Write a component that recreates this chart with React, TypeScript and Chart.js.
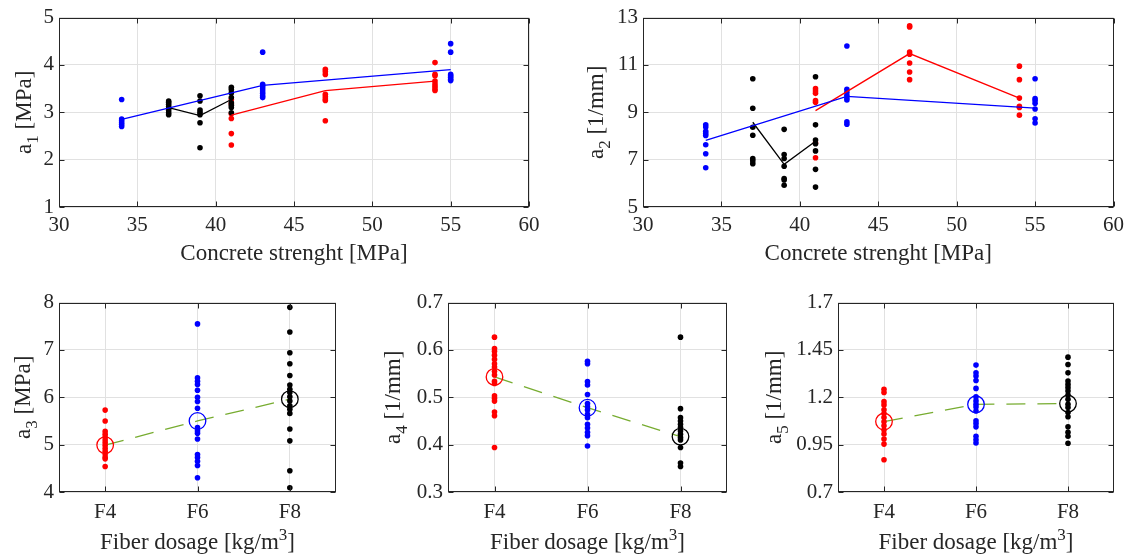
import React, { useEffect, useRef } from 'react';
import { Chart, registerables } from 'chart.js';

Chart.register(...registerables);

const FONT = '"Liberation Serif", "Times New Roman", serif';
const TICK_SIZE = 21;
const TITLE_SIZE = 23;
const AXIS_COLOR = '#262626';
const GRID_COLOR = '#e1e1e1';
const RED = '#ff0000';
const BLUE = '#0000ff';
const BLACK = '#000000';
const GREEN = '#77ac30';

// ---------- Top panels: concrete strength ----------
const strengthTicks = [30, 35, 40, 45, 50, 55, 60];
const strengthTickLabels = ['30', '35', '40', '45', '50', '55', '60'];

// a1 [MPa]
const a1Ticks = [1, 2, 3, 4, 5];
const a1TickLabels = ['1', '2', '3', '4', '5'];
const a1BlueX = [34, 43, 55];
const a1BluePts = [
  [3.27, 2.86, 2.82, 2.78, 2.74, 2.7],
  [4.27, 3.59, 3.55, 3.5, 3.45, 3.4, 3.35, 3.31],
  [4.45, 4.27, 3.8, 3.77, 3.74, 3.7, 3.67],
];
const a1BlueLine = [2.85, 3.57, 3.9];
const a1BlackX = [37, 39, 41];
const a1BlackPts = [
  [3.24, 3.21, 3.17, 3.12, 3.08, 3.04, 2.99, 2.95],
  [3.35, 3.24, 3.05, 3.0, 2.95, 2.78, 2.25],
  [3.53, 3.48, 3.41, 3.31, 3.2, 3.15, 3.1, 2.99],
];
const a1BlackLine = [3.1, 2.93, 3.27];
const a1RedX = [41, 47, 54];
const a1RedPts = [
  [3.27, 3.18, 2.97, 2.87, 2.55, 2.31],
  [3.91, 3.86, 3.8, 3.38, 3.33, 3.28, 3.25, 2.82],
  [4.05, 3.8, 3.77, 3.66, 3.6, 3.55, 3.5, 3.46],
];
const a1RedLine = [2.94, 3.46, 3.66];

// a2 [1/mm]
const a2Ticks = [5, 7, 9, 11, 13];
const a2TickLabels = ['5', '7', '9', '11', '13'];
const a2BlueX = [34, 43, 55];
const a2BluePts = [
  [8.47, 8.38, 8.2, 8.1, 8.02, 7.63, 7.25, 6.66],
  [11.8, 9.97, 9.85, 9.72, 9.6, 9.52, 8.6, 8.5],
  [10.42, 9.58, 9.5, 9.38, 9.14, 8.73, 8.55],
];
const a2BlueLine = [7.81, 9.67, 9.18];
const a2BlackX = [37, 39, 41];
const a2BlackPts = [
  [10.42, 9.17, 8.37, 8.03, 7.05, 6.95, 6.83],
  [8.28, 7.22, 7.05, 6.72, 6.2, 6.14, 5.92],
  [10.5, 8.47, 7.83, 7.67, 7.37, 6.59, 5.84],
];
const a2BlackLine = [8.58, 6.8, 7.78];
const a2RedX = [41, 47, 54];
const a2RedPts = [
  [10.0, 9.9, 9.8, 9.5, 9.42, 7.7, 7.08],
  [12.65, 12.6, 11.55, 11.45, 11.08, 10.7, 10.38],
  [10.95, 10.38, 9.6, 9.25, 9.2, 8.88],
];
const a2RedLine = [9.07, 11.48, 9.6];

// ---------- Bottom panels: fiber dosage ----------
const dosageTicks = [1, 2, 3];
const dosageLabels = ['F4', 'F6', 'F8'];

// a3 [MPa]
const a3Ticks = [4, 5, 6, 7, 8];
const a3TickLabels = ['4', '5', '6', '7', '8'];
const a3F4 = [5.73, 5.5, 5.28, 5.22, 5.16, 5.1, 5.04, 4.98, 4.92, 4.86, 4.8, 4.74, 4.7, 4.54];
const a3F6 = [7.55, 6.41, 6.34, 6.27, 6.15, 6.0, 5.91, 5.77, 5.36, 5.29, 5.24, 5.12, 4.79, 4.73, 4.65, 4.56, 4.3];
const a3F8 = [7.9, 7.38, 6.94, 6.71, 6.46, 6.26, 6.17, 6.1, 6.01, 5.92, 5.82, 5.75, 5.66, 5.33, 5.08, 4.45, 4.09];
const a3Means = [4.99, 5.5, 5.96];

// a4 [1/mm]
const a4Ticks = [0.3, 0.4, 0.5, 0.6, 0.7];
const a4TickLabels = ['0.3', '0.4', '0.5', '0.6', '0.7'];
const a4F4 = [0.627, 0.603, 0.597, 0.589, 0.58, 0.571, 0.564, 0.555, 0.547, 0.534, 0.529, 0.503, 0.498, 0.492, 0.469, 0.461, 0.394];
const a4F6 = [0.576, 0.571, 0.533, 0.526, 0.506, 0.487, 0.48, 0.473, 0.464, 0.457, 0.443, 0.435, 0.426, 0.419, 0.397];
const a4F8 = [0.627, 0.476, 0.457, 0.45, 0.443, 0.436, 0.429, 0.422, 0.415, 0.41, 0.394, 0.361, 0.354];
const a4Means = [0.543, 0.478, 0.417];

// a5 [1/mm]
const a5Ticks = [0.7, 0.95, 1.2, 1.45, 1.7];
const a5TickLabels = ['0.7', '0.95', '1.2', '1.45', '1.7'];
const a5F4 = [1.242, 1.225, 1.177, 1.16, 1.134, 1.114, 1.093, 1.071, 1.05, 1.027, 1.006, 0.98, 0.953, 0.87];
const a5F6 = [1.37, 1.329, 1.312, 1.289, 1.247, 1.202, 1.181, 1.163, 1.149, 1.128, 1.076, 1.062, 1.044, 0.994, 0.976, 0.959];
const a5F8 = [1.412, 1.373, 1.329, 1.286, 1.268, 1.251, 1.233, 1.212, 1.19, 1.163, 1.146, 1.12, 1.097, 1.044, 1.015, 0.994, 0.957];
const a5Means = [1.072, 1.163, 1.167];

// ---------- helpers ----------
type Part = { t: string; s?: 'sub' | 'sup' };

function drawRich(ctx: CanvasRenderingContext2D, parts: Part[], x: number, y: number, vertical: boolean) {
  ctx.save();
  ctx.translate(x, y);
  if (vertical) ctx.rotate(-Math.PI / 2);
  const small = Math.round(TITLE_SIZE * 0.74);
  const fontFor = (p: Part) => `${p.s ? small : TITLE_SIZE}px ${FONT}`;
  const widths = parts.map((p) => {
    ctx.font = fontFor(p);
    return ctx.measureText(p.t).width;
  });
  const total = widths.reduce((a, b) => a + b, 0);
  let cx = -total / 2;
  ctx.fillStyle = AXIS_COLOR;
  ctx.textBaseline = 'alphabetic';
  ctx.textAlign = 'left';
  parts.forEach((p, i) => {
    ctx.font = fontFor(p);
    const dy = p.s === 'sub' ? 7 : p.s === 'sup' ? -9 : 0;
    ctx.fillText(p.t, cx, dy);
    cx += widths[i];
  });
  ctx.restore();
}

const framePlugin = {
  id: 'frame',
  afterDraw(chart: any, _args: any, opts: any) {
    const { ctx, chartArea: a, scales } = chart;
    const L = Math.round(a.left) + 0.5;
    const R = Math.round(a.right) - 0.5;
    const T = Math.round(a.top) + 0.5;
    const B = Math.round(a.bottom) - 0.5;
    ctx.save();
    ctx.strokeStyle = AXIS_COLOR;
    ctx.lineWidth = 1;
    const tl = 5;
    ctx.beginPath();
    scales.x.ticks.forEach((t: any) => {
      const px = Math.round(scales.x.getPixelForValue(t.value)) + 0.5;
      ctx.moveTo(px, B);
      ctx.lineTo(px, B - tl);
      ctx.moveTo(px, T);
      ctx.lineTo(px, T + tl);
    });
    scales.y.ticks.forEach((t: any) => {
      const py = Math.round(scales.y.getPixelForValue(t.value)) + 0.5;
      ctx.moveTo(L, py);
      ctx.lineTo(L + tl, py);
      ctx.moveTo(R, py);
      ctx.lineTo(R - tl, py);
    });
    ctx.stroke();
    ctx.strokeRect(L, T, R - L, B - T);
    ctx.restore();
    drawRich(ctx, opts.xTitle, (a.left + a.right) / 2, a.bottom + opts.xOff, false);
    drawRich(ctx, opts.yTitle, a.left - opts.yOff, (a.top + a.bottom) / 2, true);
  },
};

const toPoints = (xs: number[], groups: number[][]) =>
  xs.flatMap((x, i) => groups[i].map((y) => ({ x, y })));
const toLine = (xs: number[], ys: number[]) => xs.map((x, i) => ({ x, y: ys[i] }));

const dots = (data: any[], color: string) => ({
  data,
  showLine: false,
  pointRadius: 2.8,
  pointHoverRadius: 2.8,
  pointBackgroundColor: color,
  pointBorderWidth: 0,
  order: 1,
});
const meanLine = (data: any[], color: string) => ({
  data,
  showLine: true,
  borderColor: color,
  borderWidth: 1.3,
  pointRadius: 0,
  pointHoverRadius: 0,
  fill: false,
  order: 0,
});

function topDatasets(
  bx: number[], bp: number[][], bl: number[],
  kx: number[], kp: number[][], kl: number[],
  rx: number[], rp: number[][], rl: number[]
) {
  return [
    meanLine(toLine(bx, bl), BLUE),
    meanLine(toLine(kx, kl), BLACK),
    meanLine(toLine(rx, rl), RED),
    dots(toPoints(bx, bp), BLUE),
    dots(toPoints(kx, kp), BLACK),
    dots(toPoints(rx, rp), RED),
  ];
}

function bottomDatasets(f4: number[], f6: number[], f8: number[], means: number[]) {
  return [
    {
      data: toLine(dosageTicks, means),
      showLine: true,
      borderColor: GREEN,
      borderWidth: 1.3,
      borderDash: [19, 12],
      pointRadius: 0,
      pointHoverRadius: 0,
      fill: false,
      order: 2,
    },
    dots(toPoints([1], [f4]), RED),
    dots(toPoints([2], [f6]), BLUE),
    dots(toPoints([3], [f8]), BLACK),
    {
      data: toLine(dosageTicks, means),
      showLine: false,
      pointRadius: 8.3,
      pointHoverRadius: 8.3,
      pointBackgroundColor: 'rgba(0,0,0,0)',
      pointBorderColor: [RED, BLUE, BLACK],
      pointBorderWidth: 1.3,
      order: 0,
    },
  ];
}

const strengthTitle: Part[] = [{ t: 'Concrete strenght [MPa]' }];
const dosageTitle: Part[] = [{ t: 'Fiber dosage [kg/m' }, { t: '3', s: 'sup' }, { t: ']' }];

const panels = [
  {
    left: 0, top: 0, w: 590, h: 285, yWidth: 59, padTop: 16, padRight: 61, xHeight: 78, xPad: 6,
    xMin: 30, xMax: 60, xTicks: strengthTicks, xLabels: strengthTickLabels,
    yMin: 1, yMax: 5, yTicks: a1Ticks, yLabels: a1TickLabels,
    datasets: topDatasets(a1BlueX, a1BluePts, a1BlueLine, a1BlackX, a1BlackPts, a1BlackLine, a1RedX, a1RedPts, a1RedLine),
    xTitle: strengthTitle, yTitle: [{ t: 'a' }, { t: '1', s: 'sub' }, { t: ' [MPa]' }] as Part[], xOff: 53, yOff: 28.5,
  },
  {
    left: 570, top: 0, w: 560, h: 285, yWidth: 73, padTop: 16, padRight: 16, xHeight: 78, xPad: 6,
    xMin: 30, xMax: 60, xTicks: strengthTicks, xLabels: strengthTickLabels,
    yMin: 5, yMax: 13, yTicks: a2Ticks, yLabels: a2TickLabels,
    datasets: topDatasets(a2BlueX, a2BluePts, a2BlueLine, a2BlackX, a2BlackPts, a2BlackLine, a2RedX, a2RedPts, a2RedLine),
    xTitle: strengthTitle, yTitle: [{ t: 'a' }, { t: '2', s: 'sub' }, { t: ' [1/mm]' }] as Part[], xOff: 53, yOff: 40,
  },
  {
    left: 0, top: 285, w: 390, h: 272, yWidth: 59, padTop: 16, padRight: 54, xHeight: 65, xPad: 8,
    xMin: 0.5, xMax: 3.5, xTicks: dosageTicks, xLabels: dosageLabels,
    yMin: 4, yMax: 8, yTicks: a3Ticks, yLabels: a3TickLabels,
    datasets: bottomDatasets(a3F4, a3F6, a3F8, a3Means),
    xTitle: dosageTitle, yTitle: [{ t: 'a' }, { t: '3', s: 'sub' }, { t: ' [MPa]' }] as Part[], xOff: 57, yOff: 29.5,
  },
  {
    left: 365, top: 285, w: 415, h: 272, yWidth: 83, padTop: 16, padRight: 53, xHeight: 65, xPad: 8,
    xMin: 0.5, xMax: 3.5, xTicks: dosageTicks, xLabels: dosageLabels,
    yMin: 0.3, yMax: 0.7, yTicks: a4Ticks, yLabels: a4TickLabels,
    datasets: bottomDatasets(a4F4, a4F6, a4F8, a4Means),
    xTitle: dosageTitle, yTitle: [{ t: 'a' }, { t: '4', s: 'sub' }, { t: ' [1/mm]' }] as Part[], xOff: 57, yOff: 48,
  },
  {
    left: 760, top: 285, w: 370, h: 272, yWidth: 78, padTop: 16, padRight: 16, xHeight: 65, xPad: 8,
    xMin: 0.5, xMax: 3.5, xTicks: dosageTicks, xLabels: dosageLabels,
    yMin: 0.7, yMax: 1.7, yTicks: a5Ticks, yLabels: a5TickLabels,
    datasets: bottomDatasets(a5F4, a5F6, a5F8, a5Means),
    xTitle: dosageTitle, yTitle: [{ t: 'a' }, { t: '5', s: 'sub' }, { t: ' [1/mm]' }] as Part[], xOff: 57, yOff: 57,
  },
];

function buildConfig(p: any): any {
  const tickFont = { family: FONT, size: TICK_SIZE };
  return {
    type: 'scatter',
    data: { datasets: p.datasets },
    options: {
      responsive: false,
      maintainAspectRatio: false,
      animation: false,
      devicePixelRatio: 1,
      events: [],
      layout: { padding: { top: p.padTop, right: p.padRight, left: 0, bottom: 0 } },
      plugins: {
        legend: { display: false },
        tooltip: { enabled: false },
        frame: { xTitle: p.xTitle, yTitle: p.yTitle, xOff: p.xOff, yOff: p.yOff },
      },
      scales: {
        x: {
          type: 'linear',
          min: p.xMin,
          max: p.xMax,
          afterBuildTicks: (s: any) => {
            s.ticks = p.xTicks.map((v: number) => ({ value: v }));
          },
          afterFit: (s: any) => {
            s.height = p.xHeight;
          },
          grid: { color: GRID_COLOR, lineWidth: 1, drawTicks: false },
          border: { display: false },
          ticks: {
            autoSkip: false,
            maxRotation: 0,
            minRotation: 0,
            padding: p.xPad,
            color: AXIS_COLOR,
            font: tickFont,
            callback: (_v: any, i: number) => p.xLabels[i],
          },
        },
        y: {
          type: 'linear',
          min: p.yMin,
          max: p.yMax,
          afterBuildTicks: (s: any) => {
            s.ticks = p.yTicks.map((v: number) => ({ value: v }));
          },
          afterFit: (s: any) => {
            s.width = p.yWidth;
          },
          grid: { color: GRID_COLOR, lineWidth: 1, drawTicks: false },
          border: { display: false },
          ticks: {
            autoSkip: false,
            padding: 5,
            color: AXIS_COLOR,
            font: tickFont,
            callback: (_v: any, i: number) => p.yLabels[i],
          },
        },
      },
    },
    plugins: [framePlugin],
  };
}

export default function App() {
  const refs = useRef<(HTMLCanvasElement | null)[]>([]);
  useEffect(() => {
    const charts = panels.map((p, i) => new Chart(refs.current[i] as HTMLCanvasElement, buildConfig(p)));
    return () => charts.forEach((c) => c.destroy());
  }, []);
  return (
    <div
      style={{
        position: 'absolute',
        left: 0,
        top: 0,
        width: 1130,
        height: 557,
        background: '#ffffff',
        overflow: 'hidden',
      }}
    >
      {panels.map((p, i) => (
        <canvas
          key={i}
          ref={(el) => {
            refs.current[i] = el;
          }}
          width={p.w}
          height={p.h}
          style={{ position: 'absolute', left: p.left, top: p.top, width: p.w, height: p.h }}
        />
      ))}
    </div>
  );
}
